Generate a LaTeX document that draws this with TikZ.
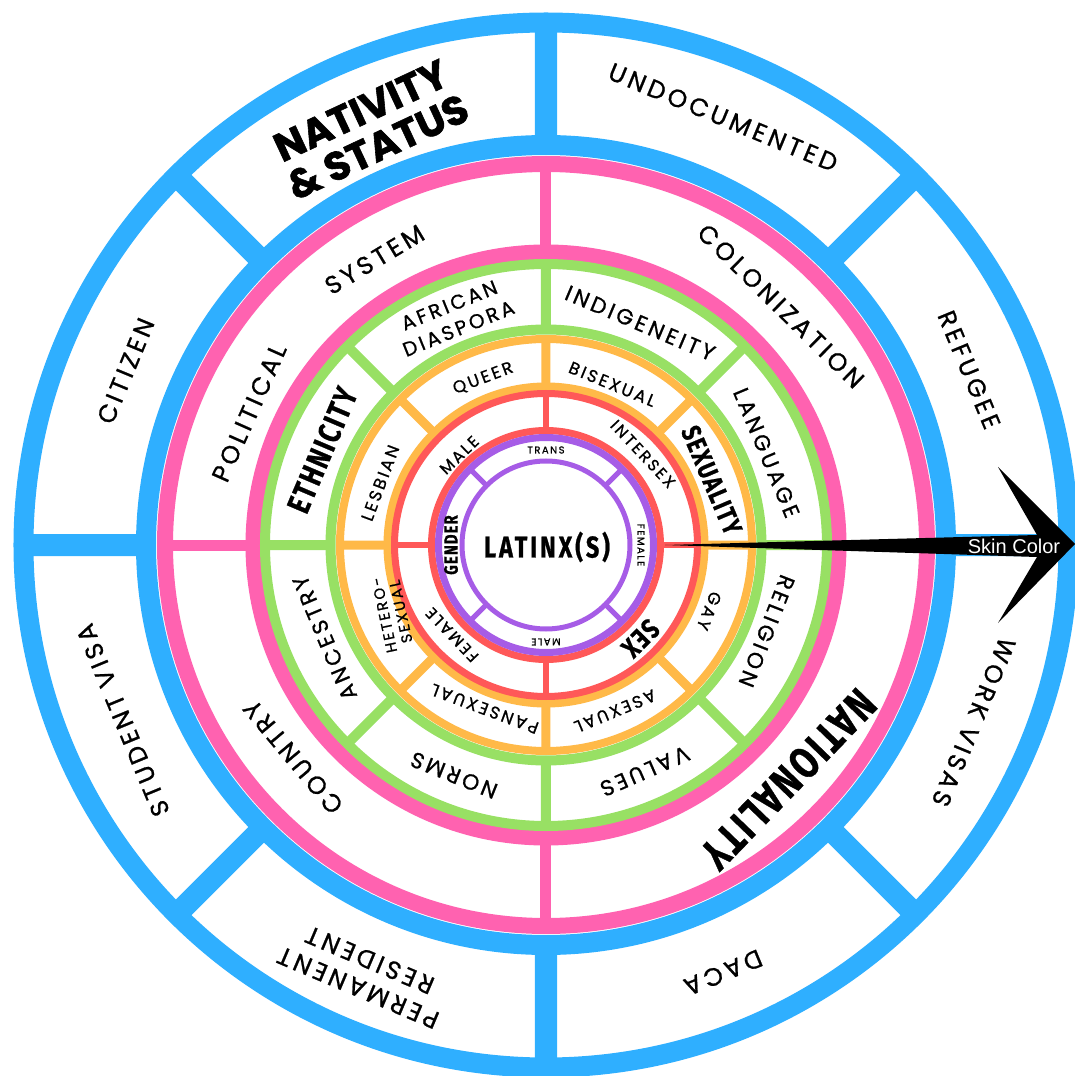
\documentclass[tikz,border=0pt]{standalone}
\usepackage{fontspec}
\setmainfont{Poppins}
\newfontfamily\ringfont[LetterSpace=15,FakeBold=0.9]{Poppins}
\newfontfamily\headfont[BoldFeatures={FakeBold=1.4}]{Poppins}
\newfontfamily\condfont[FakeStretch=0.78,LetterSpace=6,BoldFeatures={FakeBold=0.8}]{Fira Sans}
\newfontfamily\arrowfont{Liberation Sans}
\definecolor{ringblue}{HTML}{2FAFFF}
\definecolor{ringpink}{HTML}{FF62B0}
\definecolor{ringgreen}{HTML}{98E064}
\definecolor{ringorange}{HTML}{FFB948}
\definecolor{ringred}{HTML}{FF5858}
\definecolor{ringpurple}{HTML}{A65CE6}
\tikzset{
  bluering/.style={draw=ringblue, line width=20pt},
  bluespoke/.style={draw=ringblue, line width=22pt},
  pinkring/.style={draw=ringpink, line width=16pt},
  pinkspoke/.style={draw=ringpink, line width=11pt},
  greenring/.style={draw=ringgreen, line width=10pt},
  greenspoke/.style={draw=ringgreen, line width=10pt},
  orangering/.style={draw=ringorange, line width=8pt},
  orangespoke/.style={draw=ringorange, line width=9pt},
  redring/.style={draw=ringred, line width=7pt},
  redspoke/.style={draw=ringred, line width=6pt},
  purplering/.style={draw=ringpurple, line width=7pt},
  purplespoke/.style={draw=ringpurple, line width=5pt},
  outertxt/.style={font=\ringfont\fontsize{25}{30}\selectfont, align=center},
  greentxt/.style={font=\ringfont\fontsize{22}{25}\selectfont, align=center},
  orangetxt/.style={font=\ringfont\fontsize{17}{17}\selectfont, align=center},
  redtxt/.style={font=\ringfont\fontsize{16}{18}\selectfont},
  purpletxt/.style={font=\ringfont\fontsize{10}{12}\selectfont},
  headtxt/.style={font=\headfont\bfseries\fontsize{40}{40}\selectfont, align=center},
  boldtxt/.style={font=\condfont\bfseries}
}
\begin{document}
\begin{tikzpicture}[x=1pt, y=1pt]
\useasboundingbox (-546,-531) rectangle (529,545);
% outer band: nativity and status
\draw[bluering] (0,0) circle (522.5);
\draw[bluering] (0,0) circle (400);
\draw[bluespoke] (0:400) -- (0:522.5) (45:400) -- (45:522.5) (90:400) -- (90:522.5)
  (135:400) -- (135:522.5) (180:400) -- (180:522.5) (225:400) -- (225:522.5)
  (270:400) -- (270:522.5) (315:400) -- (315:522.5);
% nationality
\draw[pinkring] (0,0) circle (381);
\draw[pinkring] (0,0) circle (292.5);
\draw[pinkspoke] (0:292.5) -- (0:381) (90:292.5) -- (90:381)
  (180:292.5) -- (180:381) (270:292.5) -- (270:381);
% ethnicity
\draw[greenring] (0,0) circle (281);
\draw[greenring] (0,0) circle (215.5);
\draw[greenspoke] (0:215.5) -- (0:281) (45:215.5) -- (45:281) (90:215.5) -- (90:281)
  (135:215.5) -- (135:281) (180:215.5) -- (180:281) (225:215.5) -- (225:281)
  (270:215.5) -- (270:281) (315:215.5) -- (315:281);
% sexuality
\draw[orangering] (0,0) circle (206);
\draw[orangering] (0,0) circle (158.5);
\draw[orangespoke] (0:158.5) -- (0:206) (45:158.5) -- (45:206) (90:158.5) -- (90:206)
  (135:158.5) -- (135:206) (180:158.5) -- (180:206) (225:158.5) -- (225:206)
  (270:158.5) -- (270:206) (315:158.5) -- (315:206);
% sex
\draw[redring] (0,0) circle (151.5);
\draw[redring] (0,0) circle (114.5);
\draw[redspoke] (0:114.5) -- (0:151.5) (90:114.5) -- (90:151.5)
  (180:114.5) -- (180:151.5) (270:114.5) -- (270:151.5);
% gender
\draw[purplering] (0,0) circle (107.5);
\draw[ringpurple, line width=5pt] (0,0) circle (84);
\draw[purplespoke] (45:84) -- (45:107.5) (135:84) -- (135:107.5)
  (225:84) -- (225:107.5) (315:84) -- (315:107.5);

\node[headtxt, rotate=25] (nativity) at (113:452) {NATIVITY\\\& STATUS};
\node[outertxt, rotate=-22.5] (undocumented) at (67.5:463) {UNDOCUMENTED};
\node[outertxt, rotate=-67.5] (refugee) at (22.5:458) {REFUGEE};
\node[outertxt, rotate=-112.5] (workvisas) at (-22.5:463) {WORK VISAS};
\node[outertxt, rotate=-157.5] (daca) at (-67.5:463) {DACA};
\node[outertxt, rotate=157] (permanent) at (-113:466) {PERMANENT\\RESIDENT};
\node[outertxt, rotate=112.5] (studentvisa) at (-157.5:458) {STUDENT VISA};
\node[outertxt, rotate=67.5] (citizen) at (157.5:455) {CITIZEN};

\node[outertxt, rotate=66] (political) at (156:325) {POLITICAL};
\node[outertxt, rotate=31] (system) at (121:333) {SYSTEM};
\node[outertxt, rotate=-44.5] (colonization) at (45.5:335) {COLONIZATION};
\node[boldtxt, font=\condfont\bfseries\fontsize{44}{44}\selectfont, rotate=-134] (nationality) at (-44:337) {NATIONALITY};
\node[outertxt, rotate=130] (country) at (-140:330) {COUNTRY};

\node[greentxt, font=\ringfont\fontsize{20}{25}\selectfont, rotate=22] (african) at (112:246) {AFRICAN\\DIASPORA};
\node[greentxt, rotate=-23] (indigeneity) at (67:241) {INDIGENEITY};
\node[greentxt, rotate=-67.3] (language) at (22.7:239) {LANGUAGE};
\node[greentxt, rotate=-111.3] (religion) at (-21.3:237) {RELIGION};
\node[greentxt, rotate=-156.4] (values) at (-66.4:247) {VALUES};
\node[greentxt, rotate=158.2] (norms) at (-111.8:248) {NORMS};
\node[greentxt, rotate=112.8] (ancestry) at (-157.2:240) {ANCESTRY};
\node[boldtxt, font=\condfont\bfseries\fontsize{32}{32}\selectfont, rotate=67] (ethnicity) at (157:243) {ETHNICITY};

\node[orangetxt, rotate=20.7] (queer) at (110.7:178) {QUEER};
\node[orangetxt, rotate=-22.4] (bisexual) at (67.6:174) {BISEXUAL};
\node[boldtxt, font=\condfont\bfseries\fontsize{27}{27}\selectfont, rotate=-67] (sexuality) at (21.4:178) {SEXUALITY};
\node[orangetxt, rotate=-112] (gay) at (-22:176) {GAY};
\node[orangetxt, rotate=-157.4] (asexual) at (-67.4:180) {ASEXUAL};
\node[orangetxt, rotate=159.5] (pansexual) at (-110.5:175) {PANSEXUAL};
\node[orangetxt, font=\ringfont\fontsize{15}{17}\selectfont, rotate=102] (hetero) at (-156:168) {HETERO-\\SEXUAL};
\node[orangetxt, rotate=69.5] (lesbian) at (159.5:177) {LESBIAN};

\node[redtxt, rotate=44] (malesex) at (134:125) {MALE};
\node[redtxt, rotate=-46.8] (intersex) at (43.2:133) {INTERSEX};
\node[redtxt, rotate=133.7] (femalesex) at (-136.3:130) {FEMALE};
\node[boldtxt, font=\condfont\bfseries\fontsize{28}{28}\selectfont, rotate=-134.7] (sex) at (-44.7:133) {SEX};

\node[purpletxt] (trans) at (90:95) {TRANS};
\node[purpletxt, rotate=-90] (femalegender) at (0:95) {FEMALE};
\node[purpletxt, rotate=180] (malegender) at (-90:97) {MALE};
\node[boldtxt, font=\condfont\bfseries\fontsize{19}{19}\selectfont, rotate=90] (gender) at (180:95) {GENDER};

\node[boldtxt, font=\condfont\bfseries\addfontfeatures{LetterSpace=10}\fontsize{30}{30}\selectfont] (latinx) at (1,-2) {LATINX(S)};

% skin color arrow
\coordinate (arrowstart) at (119,0);
\coordinate (arrowtip) at (529,1);
\fill[black] (arrowstart) -- (491,10) -- (452,78) -- (arrowtip) -- (452,-78) -- (491,-12) -- cycle;
\node[text=white, font=\arrowfont\fontsize{20}{20}\selectfont] (skin) at (468,-1) {Skin Color};
\end{tikzpicture}
\end{document}
